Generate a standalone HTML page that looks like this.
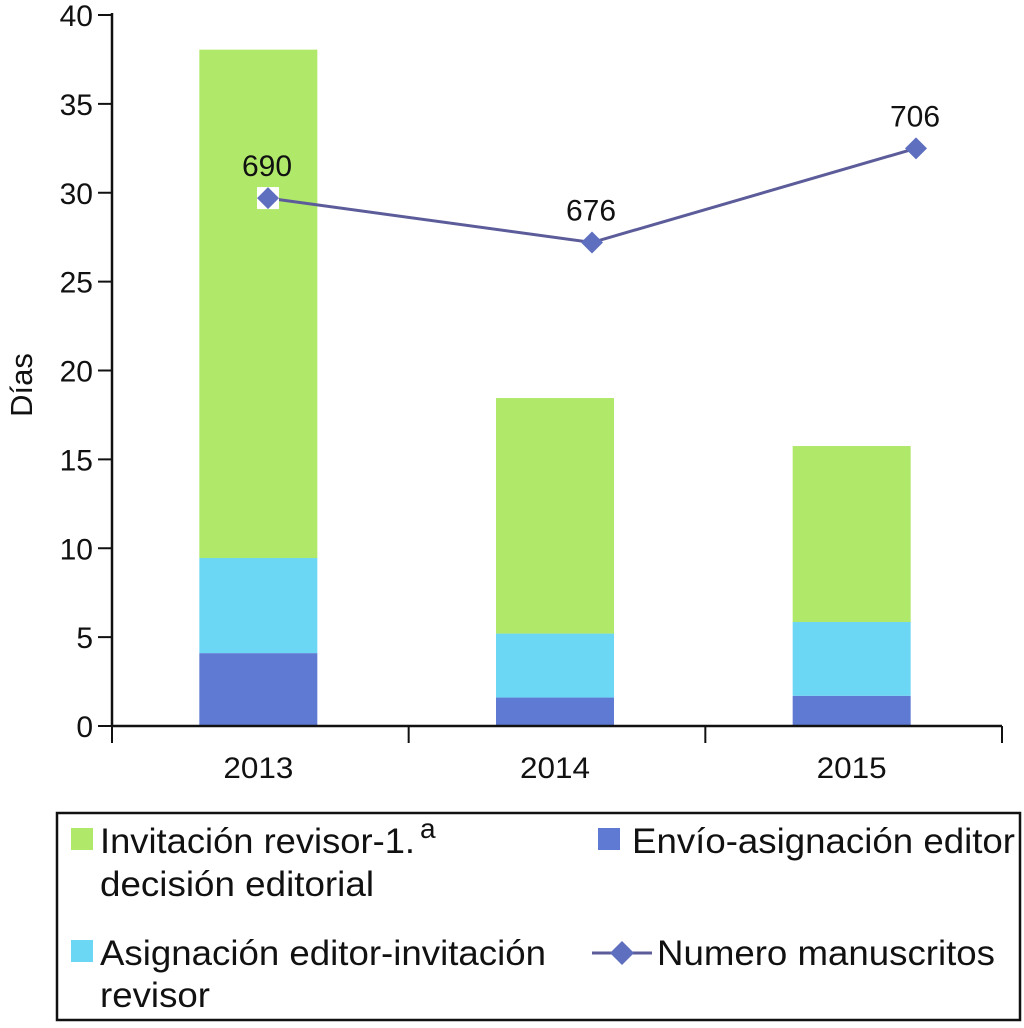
<!DOCTYPE html>
<html><head><meta charset="utf-8"><style>
html,body{margin:0;padding:0;background:#fff}
svg text{font-family:"Liberation Sans",Arial,sans-serif;fill:#111}
</style></head><body>
<svg id="chart" width="1024" height="1023" xmlns="http://www.w3.org/2000/svg">
<g id="plot"></g>
<rect x="57" y="813" width="963" height="207" fill="none" stroke="#111" stroke-width="2.5"/>
<g>
<rect x="71" y="828" width="22" height="22" fill="#b0e86a"/>
<text x="100" y="853" font-size="35" textLength="315" lengthAdjust="spacingAndGlyphs">Invitación revisor-1.</text>
<text x="420" y="838" font-size="28">a</text>
<text x="100" y="896" font-size="35" textLength="274" lengthAdjust="spacingAndGlyphs">decisión editorial</text>
<rect x="71" y="940" width="22" height="22" fill="#6cd6f5"/>
<text x="100" y="965" font-size="35" textLength="446" lengthAdjust="spacingAndGlyphs">Asignación editor-invitación</text>
<text x="100" y="1007" font-size="35" textLength="110" lengthAdjust="spacingAndGlyphs">revisor</text>
<rect x="598" y="828" width="22" height="22" fill="#5f7ad2"/>
<text x="632" y="853" font-size="35" textLength="383" lengthAdjust="spacingAndGlyphs">Envío-asignación editor</text>
<line x1="592" y1="953" x2="652" y2="953" stroke="#5c5c9a" stroke-width="3"/>
<path d="M622 941 L634 953 L622 965 L610 953Z" fill="#5f6fc0"/>
<text x="657" y="965" font-size="35" textLength="338" lengthAdjust="spacingAndGlyphs">Numero manuscritos</text>
</g>
</svg>
<script>
const categories = ["2013","2014","2015"];
const envio = [4.1, 1.6, 1.7];
const asignacion = [5.35, 3.6, 4.15];
const invitacion = [28.6, 13.25, 9.9];
const lineValues = [29.7, 27.2, 32.5];
const lineLabels = ["690","676","706"];
const yTicks = [0,5,10,15,20,25,30,35,40];

const NS = "http://www.w3.org/2000/svg";
const plot = document.getElementById("plot");
const y0 = 726, yTop = 15, yMax = 40;
const xL = 112, xR = 1002;
function y(v){ return y0 - v*(y0-yTop)/yMax; }
const band = (xR-xL)/categories.length;
function xc(i){ return xL + band*(i+0.5) - 2; }
function xLine(i){ return 268 + i*324; }
function mk(tag, attrs){ const e=document.createElementNS(NS,tag); for(const k in attrs) e.setAttribute(k,attrs[k]); plot.appendChild(e); return e; }

const series = [[envio,"#5f7ad2","envio"],[asignacion,"#6cd6f5","asignacion"],[invitacion,"#b0e86a","invitacion"]];
categories.forEach((c,i)=>{
  let base=0;
  series.forEach(([arr,col,nm])=>{
    const v=arr[i];
    const r=mk("rect",{x:xc(i)-59,y:y(base+v),width:118,height:y(base)-y(base+v),fill:col});
    
    
    base+=v;
  });
});

let a=mk("line",{x1:xL,y1:yTop-2,x2:xL,y2:y0,stroke:"#111","stroke-width":2.5});


a=mk("line",{x1:xL,y1:y0,x2:xR,y2:y0,stroke:"#111","stroke-width":2.5});


yTicks.forEach(t=>{
  const l=mk("line",{x1:xL-14,y1:y(t),x2:xL,y2:y(t),stroke:"#111","stroke-width":2});
  
  
  const tx=mk("text",{x:xL-19,y:y(t)+11,"font-size":30,"text-anchor":"end"});
  tx.textContent=t;
  
  
});
for(let i=0;i<=categories.length;i++){
  const x=xL+band*i;
  const l=mk("line",{x1:x,y1:y0,x2:x,y2:y0+17,stroke:"#111","stroke-width":2});
  
  
}
categories.forEach((c,i)=>{
  const tx=mk("text",{x:xc(i)-35,y:y0+52,"font-size":30,textLength:70,lengthAdjust:"spacingAndGlyphs"});
  tx.textContent=c;
  
  
});
const yl=mk("text",{x:0,y:0,"font-size":31,"text-anchor":"middle",transform:"translate(32,385) rotate(-90)"});
yl.textContent="Días";



const pts=lineValues.map((v,i)=>xLine(i)+","+y(v)).join(" ");
const pl=mk("polyline",{points:pts,fill:"none",stroke:"#5c5c9a","stroke-width":3});


lineValues.forEach((v,i)=>{
  const cx=xLine(i), cy=y(v);
  if(i===0){
    const bg=mk("rect",{x:cx-11,y:cy-11,width:22,height:22,fill:"#fff"});
    
    
  }
  const d=mk("path",{d:`M${cx} ${cy-11} L${cx+11} ${cy} L${cx} ${cy+11} L${cx-11} ${cy}Z`,fill:"#5f6fc0"});
  
  
  const t=mk("text",{x:cx-1,y:cy-22,"font-size":30,"text-anchor":"middle"});
  t.textContent=lineLabels[i];
  
  
});
</script>
</body></html>
